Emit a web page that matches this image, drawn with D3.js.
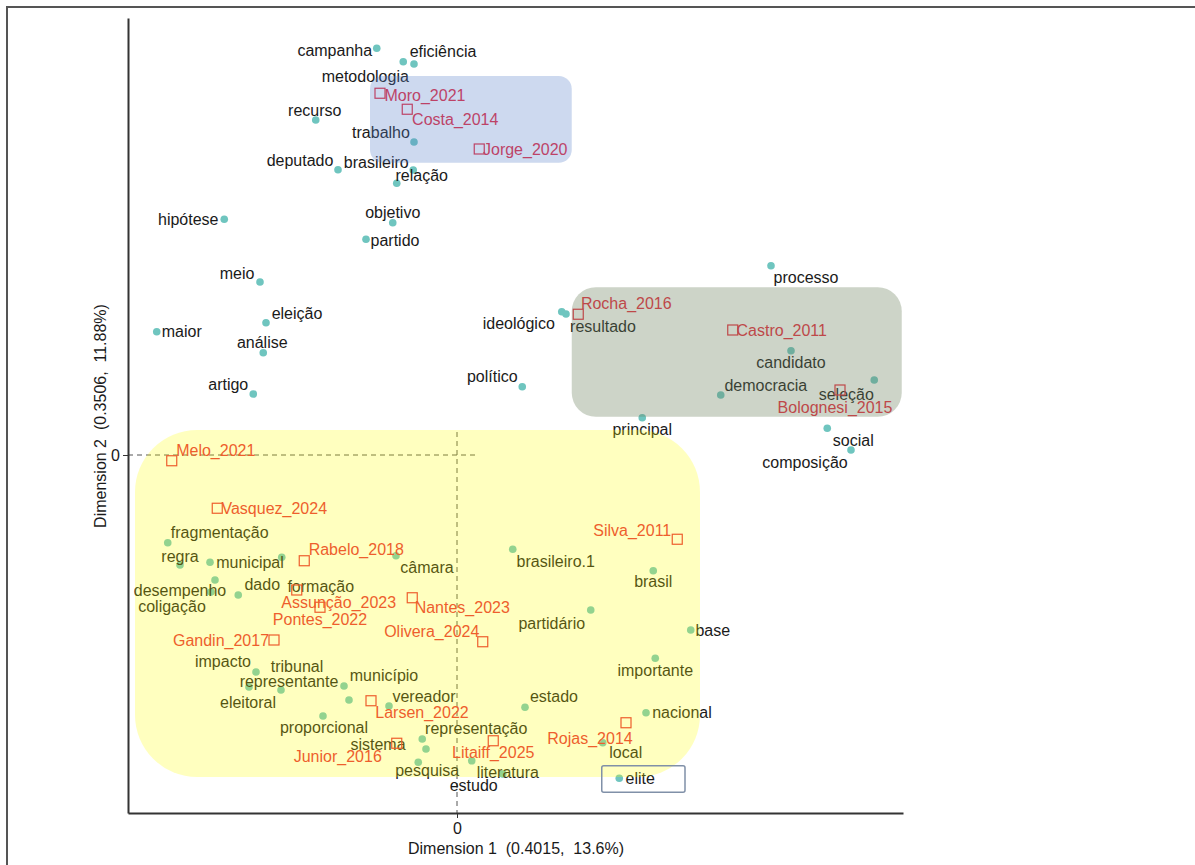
<!DOCTYPE html>
<html>
<head>
<meta charset="utf-8">
<script src="https://cdn.jsdelivr.net/npm/d3@7"></script>
<style>
  body { margin: 0; background: #fff; }
  svg text { font-family: "Liberation Sans", Arial, sans-serif; }
</style>
</head>
<body>
<svg id="chart"></svg>
<script>
// word (column) coordinates on dimensions 1 and 2
const wordNames = ["campanha","eficiência","metodologia","recurso","trabalho","deputado","brasileiro","relação","objetivo","partido",
  "hipótese","meio","eleição","maior","análise","artigo","processo","ideológico","resultado","candidato",
  "democracia","seleção","político","principal","social","composição","fragmentação","regra","municipal","formação",
  "desempenho","coligação","dado","câmara","impacto","eleitoral","tribunal","representante","município","proporcional",
  "vereador","representação","sistema","pesquisa","estudo","literatura","brasileiro.1","brasil","partidário","base",
  "importante","estado","nacional","local","elite"];
const wordDim1 = [-0.321,-0.172,-0.215,-0.565,-0.172,-0.476,-0.175,-0.241,-0.257,-0.364,
  -0.931,-0.788,-0.764,-1.201,-0.775,-0.815,1.256,0.419,0.436,1.336,
  1.055,1.669,0.261,0.741,1.481,1.576,-1.157,-1.108,-0.988,-0.701,
  -0.968,-0.984,-0.875,-0.244,-0.804,-0.832,-0.704,-0.452,-0.432,-0.536,
  -0.272,-0.139,-0.124,-0.155,0.059,0.183,0.223,0.785,0.535,0.935,
  0.793,0.272,0.756,0.583,0.649];
const wordDim2 = [1.627,1.564,1.573,1.340,1.252,1.141,1.140,1.087,0.929,0.863,
  0.943,0.692,0.529,0.493,0.409,0.244,0.757,0.573,0.564,0.417,
  0.240,0.300,0.273,0.149,0.107,0.020,-0.351,-0.440,-0.429,-0.409,
  -0.500,-0.548,-0.560,-0.403,-0.868,-0.928,-0.940,-0.924,-0.980,-1.044,
  -1.004,-1.136,-1.176,-1.229,-1.223,-1.276,-0.377,-0.463,-0.620,-0.700,
  -0.813,-1.009,-1.031,-1.151,-1.293];

// document (row) coordinates
const docNames = ["Moro_2021","Costa_2014","Jorge_2020","Rocha_2016","Castro_2011","Bolognesi_2015","Melo_2021","Vasquez_2024",
  "Rabelo_2018","Assunção_2023","Pontes_2022","Nantes_2023","Olivera_2024","Gandin_2017","Larsen_2022","Junior_2016",
  "Litaiff_2025","Rojas_2014","Silva_2011"];
const docDim1 = [-0.308,-0.199,0.089,0.485,1.103,1.532,-1.141,-0.959,-0.611,-0.641,-0.548,-0.179,0.103,-0.732,-0.344,-0.241,0.145,0.676,0.881];
const docDim2 = [1.447,1.383,1.224,0.563,0.500,0.260,-0.023,-0.213,-0.423,-0.540,-0.609,-0.571,-0.747,-0.740,-0.983,-1.153,-1.143,-1.071,-0.337];

const xTitle = "Dimension 1  (0.4015,  13.6%)";
const yTitle = "Dimension 2  (0.3506,  11.88%)";
const tickValues = [0];

// highlighted clusters, in plot units
const groups = [
  { x0: -1.288, x1: 0.972, y0: 0.100, y1: -1.288, fill: "rgb(255,255,0)", op: 0.25, r: 62 },
  { x0: -0.348, x1: 0.459, y0: 1.516, y1: 1.169, fill: "rgb(88,128,202)", op: 0.3, r: 13 },
  { x0: 0.459, x1: 1.779, y0: 0.671, y1: 0.153, fill: "rgb(112,132,98)", op: 0.35, r: 24 }
];
const eliteBox = { x0: 0.579, x1: 0.912, y0: -1.243, y1: -1.349 };

// label nudges from repel placement (px)
const wordNudge = [[-42,2],[29,-13],[-38,15],[-1,-10],[-33,-10],[-38,-9],[-37,-8],[25,-8],[0,-10],[29,1],
  [-36,0],[-23,-9],[31,-9],[25,0],[-1,-10],[-25,-10],[35,12],[-43,12],[37,12],[0,12],
  [45,-10],[-28,14],[-30,-10],[0,12],[26,12],[-46,12],[52,-10],[0,-9],[40,0],[39,29],
  [-35,10],[-39,14],[24,-11],[31,12],[-33,-11],[-1,15],[16,-24],[-55,-5],[35,-25],[1,11],
  [35,-10],[54,-11],[-48,-5],[9,8],[2,25],[5,-2],[43,12],[0,11],[-39,13],[22,0],
  [0,12],[29,-11],[36,0],[23,10],[21,0]];
const docNudge = [[45,2],[48,10],[46,0],[48,-11],[49,0],[-5,17],[44,-10],[57,0],[52,-11],[42,12],
  [0,12],[50,10],[-51,-10],[-53,0],[51,12],[-59,13],[0,12],[-36,16],[-45,-9]];

const width = 1195, height = 865;
const svg = d3.select("#chart").attr("width", width).attr("height", height);

const x = d3.scaleLinear().domain([-1.316, 1.784]).range([128, 903]);
const y = d3.scaleLinear().domain([-1.432, 1.748]).range([813, 18]);

const words = wordNames.map((n, i) => ({ name: n, d1: wordDim1[i], d2: wordDim2[i], nudge: wordNudge[i] }));
const docs = docNames.map((n, i) => ({ name: n, d1: docDim1[i], d2: docDim2[i], nudge: docNudge[i] }));

// outer frame
svg.append("rect")
  .attr("x", 7).attr("y", 7).attr("width", width + 20).attr("height", height + 20)
  .attr("fill", "none").attr("stroke", "#555").attr("stroke-width", 2);

// reference lines through the origin
svg.append("line")
  .attr("x1", x.range()[0]).attr("x2", x(0.084))
  .attr("y1", y(0)).attr("y2", y(0))
  .attr("stroke", "#555").attr("stroke-dasharray", "5,4");
svg.append("line")
  .attr("x1", x(0)).attr("x2", x(0))
  .attr("y1", y(0.092)).attr("y2", y.range()[0])
  .attr("stroke", "#555").attr("stroke-dasharray", "5,4");

const fontSize = 16;

// words
const wg = svg.append("g");
wg.selectAll("circle").data(words).join("circle")
  .attr("cx", d => x(d.d1)).attr("cy", d => y(d.d2))
  .attr("r", 3.8).attr("fill", "#6fc5bf");
wg.selectAll("text").data(words).join("text")
  .attr("x", d => x(d.d1) + d.nudge[0])
  .attr("y", d => y(d.d2) + d.nudge[1])
  .attr("text-anchor", "middle").attr("dominant-baseline", "central")
  .attr("font-size", fontSize).attr("fill", "#1a1a1a")
  .text(d => d.name);

// documents
const dg = svg.append("g");
dg.selectAll("rect").data(docs).join("rect")
  .attr("x", d => x(d.d1) - 5).attr("y", d => y(d.d2) - 5)
  .attr("width", 10).attr("height", 10)
  .attr("fill", "none").attr("stroke", "#e8283c").attr("stroke-width", 1.2);
dg.selectAll("text").data(docs).join("text")
  .attr("x", d => x(d.d1) + d.nudge[0])
  .attr("y", d => y(d.d2) + d.nudge[1])
  .attr("text-anchor", "middle").attr("dominant-baseline", "central")
  .attr("font-size", fontSize).attr("fill", "#e8283c")
  .text(d => d.name);

// cluster overlays
svg.append("g").selectAll("rect").data(groups).join("rect")
  .attr("x", d => x(d.x0)).attr("y", d => y(d.y0))
  .attr("width", d => x(d.x1) - x(d.x0)).attr("height", d => y(d.y1) - y(d.y0))
  .attr("rx", d => d.r).attr("ry", d => d.r)
  .attr("fill", d => d.fill).attr("fill-opacity", d => d.op);

svg.append("rect")
  .attr("x", x(eliteBox.x0)).attr("y", y(eliteBox.y0))
  .attr("width", x(eliteBox.x1) - x(eliteBox.x0)).attr("height", y(eliteBox.y1) - y(eliteBox.y0))
  .attr("rx", 2).attr("fill", "none").attr("stroke", "#8090a8").attr("stroke-width", 1.5);

// axes
const fmt = d3.format("d");
const xAxis = svg.append("g")
  .attr("transform", `translate(0,${y.range()[0]})`)
  .call(d3.axisBottom(x).tickValues(tickValues).tickFormat(fmt).tickSize(5).tickSizeOuter(0).tickPadding(5));
const yAxis = svg.append("g")
  .attr("transform", `translate(${x.range()[0]},0)`)
  .call(d3.axisLeft(y).tickValues(tickValues).tickFormat(fmt).tickSize(5).tickSizeOuter(0).tickPadding(3));
[xAxis, yAxis].forEach(a => {
  a.select(".domain").attr("stroke", "#333").attr("stroke-width", 2);
  a.selectAll(".tick line").attr("stroke", "#333");
  a.selectAll(".tick text").attr("font-size", fontSize).attr("fill", "#1a1a1a")
    .attr("font-family", "Liberation Sans, Arial, sans-serif");
});

svg.append("text")
  .attr("x", 516).attr("y", 848)
  .attr("text-anchor", "middle").attr("dominant-baseline", "central")
  .attr("font-size", fontSize).attr("fill", "#1a1a1a")
  .attr("xml:space", "preserve")
  .text(xTitle);
svg.append("text")
  .attr("transform", "translate(100,416) rotate(-90)")
  .attr("text-anchor", "middle").attr("dominant-baseline", "central")
  .attr("font-size", fontSize).attr("fill", "#1a1a1a")
  .attr("xml:space", "preserve")
  .text(yTitle);
</script>
</body>
</html>
